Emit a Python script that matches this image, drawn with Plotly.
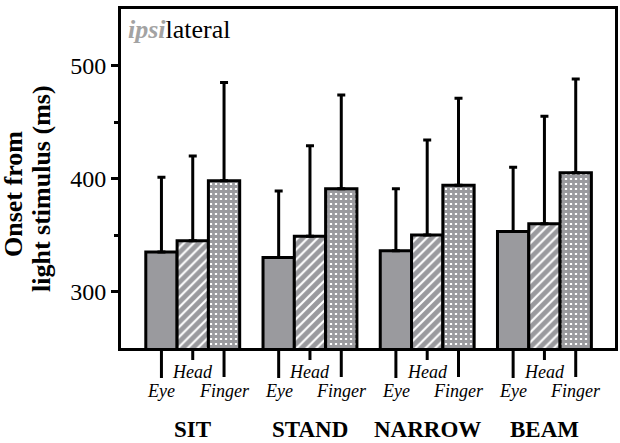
import plotly.graph_objects as go

# Conditions (groups) and effectors (bars within a group)
groups = ["SIT", "STAND", "NARROW", "BEAM"]
effectors = ["Eye", "Head", "Finger"]

# Mean onset (ms) per condition
eye_mean = [335, 330, 336, 353]
head_mean = [345, 349, 350, 360]
finger_mean = [398, 391, 394, 405]

# Top of the error bar (mean + SD) per condition
eye_upper = [401, 389, 391, 410]
head_upper = [420, 429, 434, 455]
finger_upper = [485, 474, 471, 488]

y_ticks = [300, 400, 500]
y_minor = [350, 450]

FONT = "Liberation Serif"
GRAY = "#9a9a9e"
BAR_W = 0.267
offsets = [-BAR_W, 0.0, BAR_W]

means = [eye_mean, head_mean, finger_mean]
uppers = [eye_upper, head_upper, finger_upper]
patterns = [
    dict(shape=""),
    dict(shape="/", fgcolor="white", bgcolor=GRAY, size=7, solidity=0.3, fillmode="replace"),
    dict(shape="+", fgcolor=GRAY, bgcolor="white", size=5, solidity=0.8, fillmode="replace"),
]

fig = go.Figure()
for j, name in enumerate(effectors):
    xs = [g + offsets[j] for g in range(len(groups))]
    fig.add_trace(go.Bar(
        x=xs,
        y=means[j],
        width=BAR_W,
        name=name,
        marker=dict(color=GRAY, line=dict(color="black", width=3), pattern=patterns[j]),
        error_y=dict(
            type="data", symmetric=False,
            array=[u - m for u, m in zip(uppers[j], means[j])],
            arrayminus=[0] * len(groups),
            color="black", thickness=3, width=4,
        ),
        showlegend=False,
    ))

PLOT_H = 443 - 9 - 95
tick_len = {"Eye": 30, "Head": 12, "Finger": 29}
label_drop = {"Eye": 43, "Head": 24, "Finger": 43}

shapes = []
annotations = []
for g, grp in enumerate(groups):
    for j, name in enumerate(effectors):
        xc = g + offsets[j]
        shapes.append(dict(
            type="line", xref="x", yref="paper",
            x0=xc, x1=xc, y0=0, y1=-tick_len[name] / PLOT_H,
            line=dict(color="black", width=3),
        ))
        annotations.append(dict(
            xref="x", yref="paper", x=xc, y=0, yshift=-label_drop[name],
            xanchor="center", yanchor="middle", showarrow=False,
            text=f"<i>{name}</i>", font=dict(family=FONT, size=18, color="black"),
        ))
    annotations.append(dict(
        xref="x", yref="paper", x=g, y=0, yshift=-81,
        xanchor="center", yanchor="middle", showarrow=False, borderpad=0,
        text=f"<b>{grp}</b>", font=dict(family=FONT, size=23, color="black"),
    ))

# Two-line y-axis title, one annotation per line for tight line spacing
for line, xpx, ypx in [("Onset from", 13, 194), ("light stimulus (ms)", 41, 189)]:
    annotations.append(dict(
        xref="paper", yref="paper", x=0, y=0, xshift=xpx - 121, yshift=348 - ypx,
        xanchor="center", yanchor="middle", showarrow=False, textangle=-90,
        text=f"<b>{line}</b>",
        font=dict(family=FONT, size=26, color="black"),
    ))

annotations.append(dict(
    xref="paper", yref="paper", x=0, y=1, xshift=5, yshift=-4,
    xanchor="left", yanchor="top", showarrow=False,
    text="<span style='color:#a3a3a3'><i><b>ipsi</b></i></span>lateral",
    font=dict(family=FONT, size=26, color="black"),
))

fig.update_layout(
    width=620, height=443,
    margin=dict(l=121, r=2, t=9, b=95),
    paper_bgcolor="white", plot_bgcolor="white",
    barmode="overlay",
    shapes=shapes,
    annotations=annotations,
    font=dict(family=FONT),
    xaxis=dict(
        range=[-0.612, 3.602], showticklabels=False, ticks="",
        showline=True, mirror=True, linewidth=3, linecolor="black",
        showgrid=False, zeroline=False,
    ),
    yaxis=dict(
        range=[250, 550], tickvals=y_ticks, ticks="outside", ticklen=7,
        tickwidth=3, tickcolor="black",
        minor=dict(tickvals=y_minor, ticks="outside", ticklen=4, tickwidth=3, tickcolor="black"),
        tickfont=dict(family=FONT, size=24, color="black"),
        showline=True, mirror=True, linewidth=3, linecolor="black",
        showgrid=False, zeroline=False,
    ),
)

fig.write_html("out.html")
